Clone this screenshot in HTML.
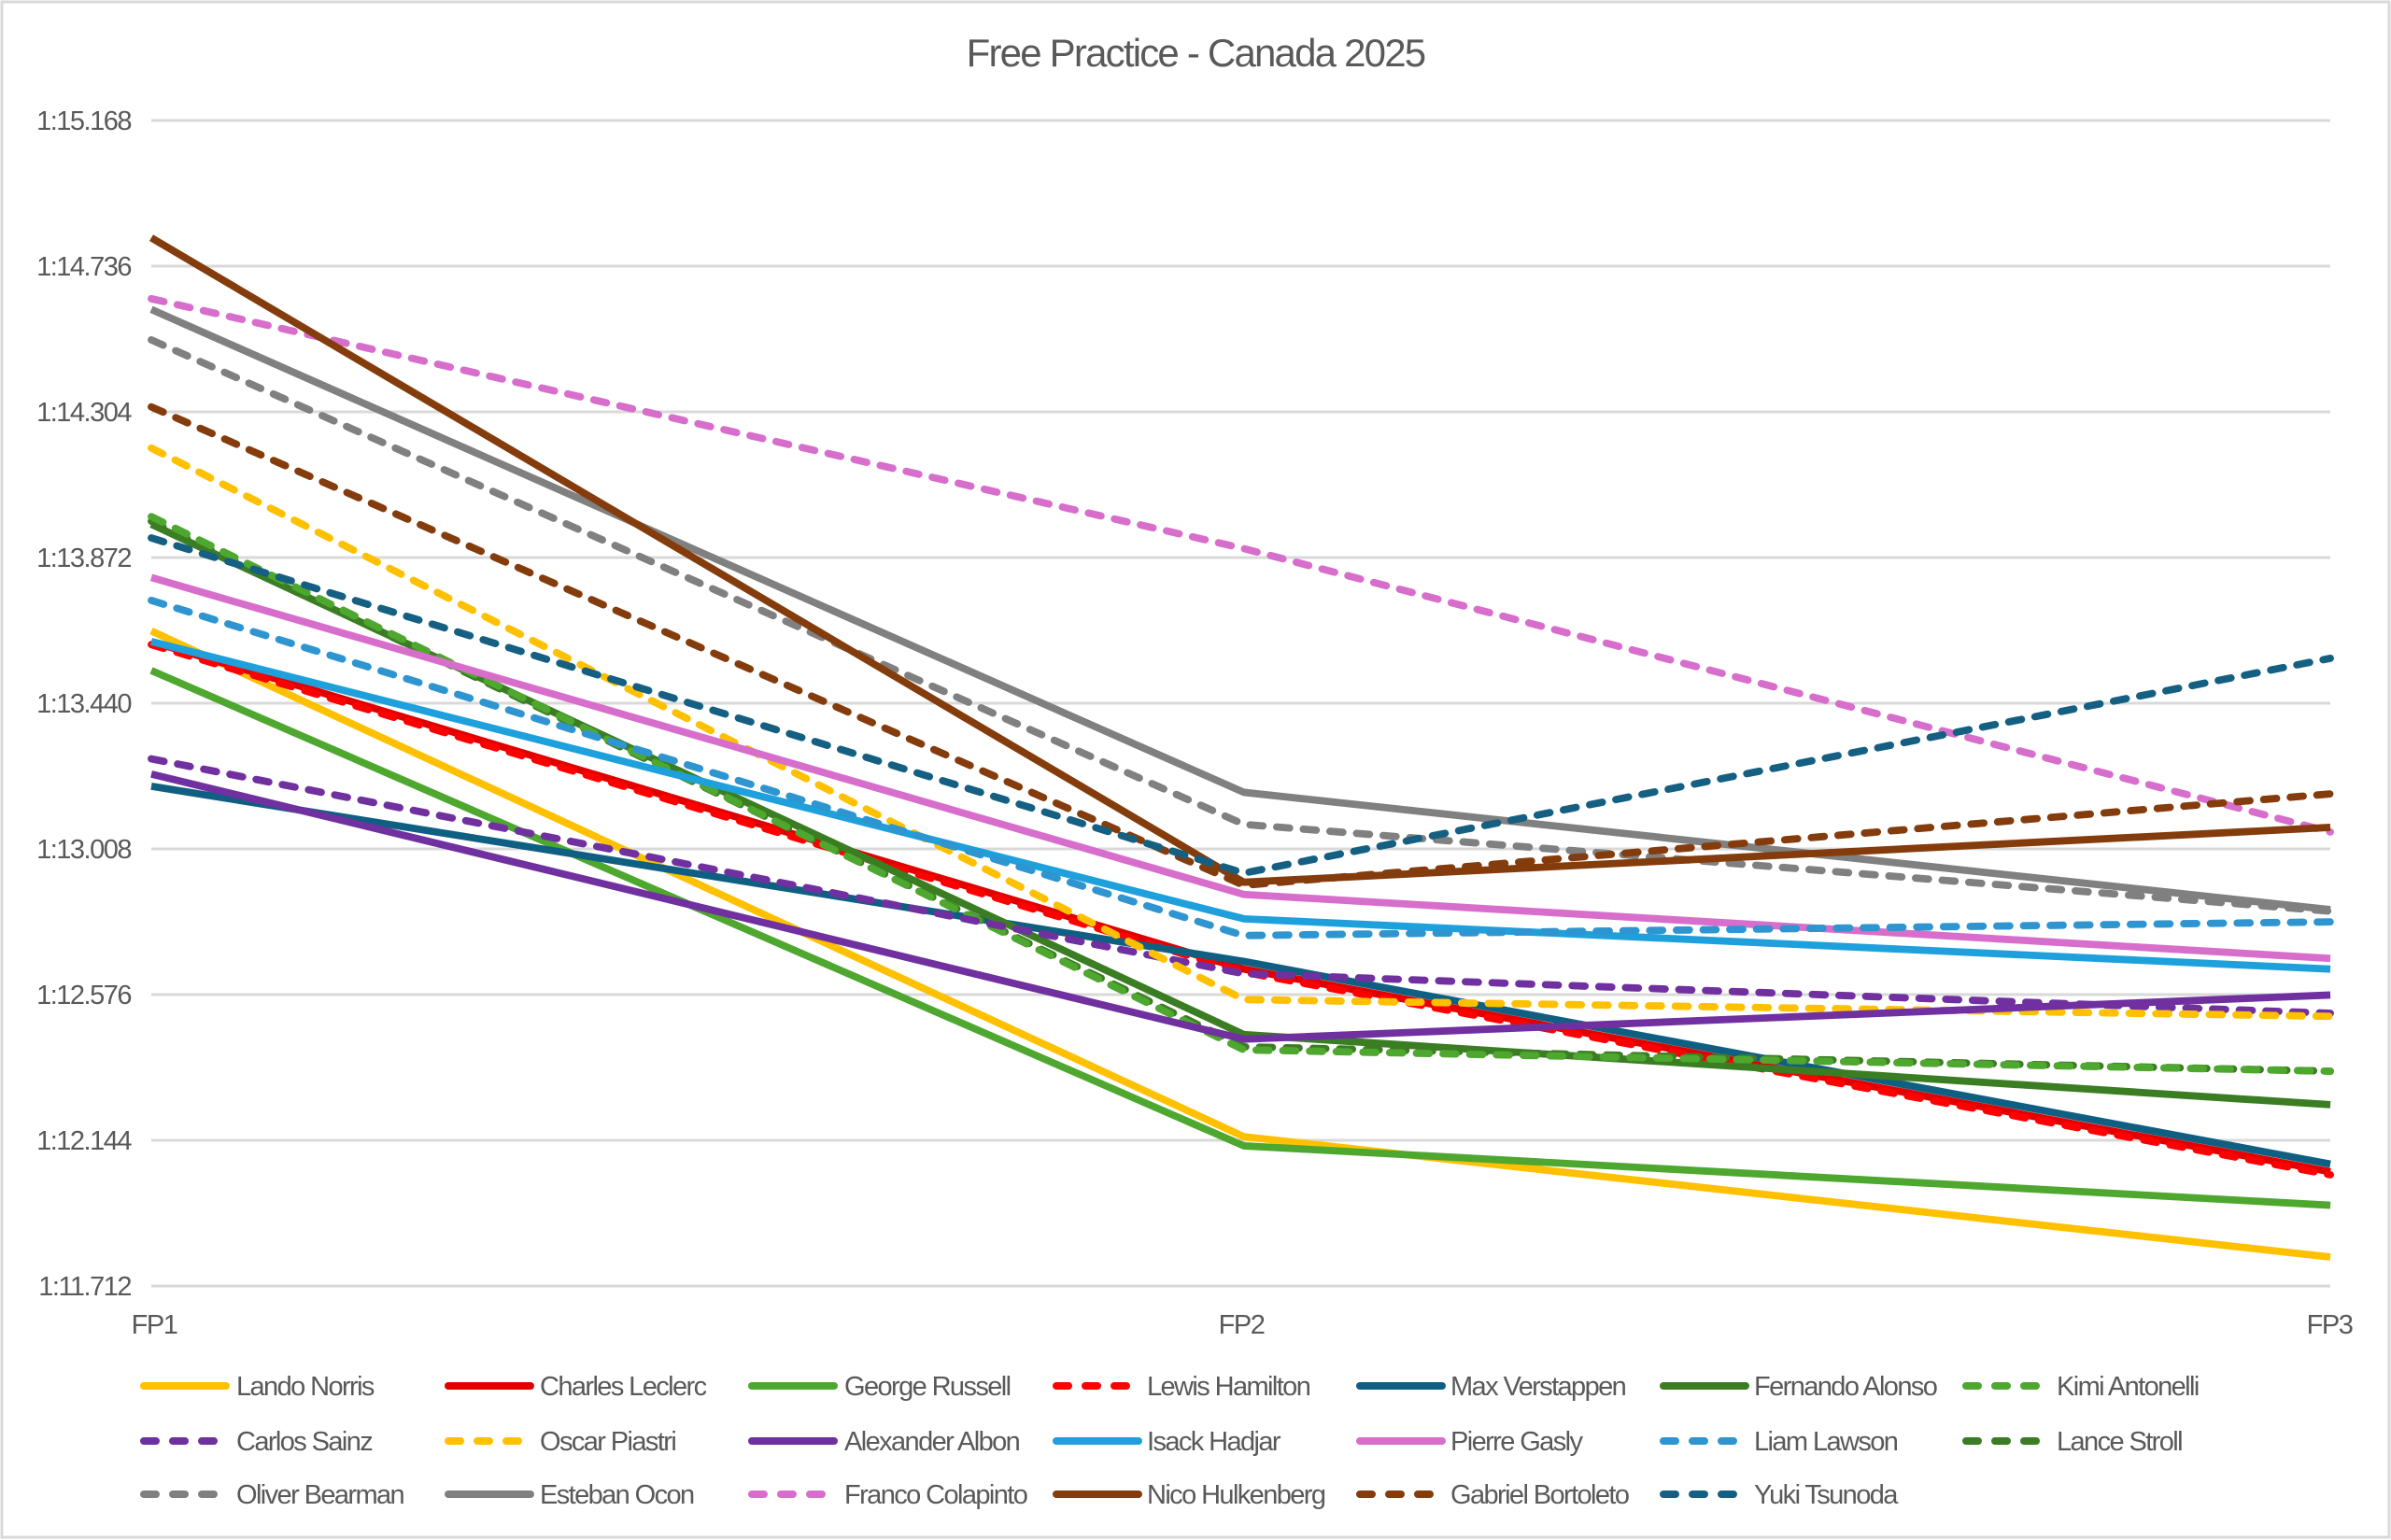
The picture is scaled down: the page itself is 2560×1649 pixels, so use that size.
<!DOCTYPE html>
<html><head><meta charset="utf-8"><style>
html,body{margin:0;padding:0;background:#fff;}
svg{display:block;font-family:"Liberation Sans",sans-serif;}
</style></head><body>
<svg width="2560" height="1649" viewBox="0 0 2560 1649" xmlns="http://www.w3.org/2000/svg">
<rect x="2" y="2" width="2556" height="1644" fill="#fff" stroke="#d9d9d9" stroke-width="3"/>
<text x="1280" y="71" text-anchor="middle" font-size="42" fill="#595959" letter-spacing="-1.8">Free Practice - Canada 2025</text>
<g stroke="#d9d9d9" stroke-width="3">
<line x1="162" x2="2495" y1="129" y2="129"/>
<line x1="162" x2="2495" y1="285" y2="285"/>
<line x1="162" x2="2495" y1="441" y2="441"/>
<line x1="162" x2="2495" y1="597" y2="597"/>
<line x1="162" x2="2495" y1="753" y2="753"/>
<line x1="162" x2="2495" y1="909" y2="909"/>
<line x1="162" x2="2495" y1="1065" y2="1065"/>
<line x1="162" x2="2495" y1="1221" y2="1221"/>
<line x1="162" x2="2495" y1="1377" y2="1377"/>
</g>
<g font-size="29" fill="#595959" text-anchor="end" letter-spacing="-1.5">
<text x="140" y="139">1:15.168</text>
<text x="140" y="295">1:14.736</text>
<text x="140" y="451">1:14.304</text>
<text x="140" y="607">1:13.872</text>
<text x="140" y="763">1:13.440</text>
<text x="140" y="919">1:13.008</text>
<text x="140" y="1075">1:12.576</text>
<text x="140" y="1231">1:12.144</text>
<text x="140" y="1387">1:11.712</text>
</g>
<g font-size="29" fill="#595959" text-anchor="middle" letter-spacing="-1.5">
<text x="165" y="1428">FP1</text>
<text x="1329" y="1428">FP2</text>
<text x="2494" y="1428">FP3</text>
</g>
<g transform="matrix(1.6338 0 0 1.6314 0.25 1.75)" fill="none" stroke-width="4.8" stroke-linecap="round" stroke-linejoin="round">
<polyline stroke="#FFC000" points="99,413 815,745 1527,824" stroke-linecap="butt"/>
<polyline stroke="#E00000" points="99,420 815,635 1527,768" stroke-linecap="butt"/>
<polyline stroke="#4EA72E" points="99,439 815,751 1527,790" stroke-linecap="butt"/>
<polyline stroke="#FF0000" stroke-dasharray="8.5 9" points="99,422 815,637 1527,770"/>
<polyline stroke="#0F5F82" points="99,515 815,630 1527,763" stroke-linecap="butt"/>
<polyline stroke="#3B7D23" points="99,343 815,678 1527,724" stroke-linecap="butt"/>
<polyline stroke="#3B7D23" stroke-dasharray="8.5 9" points="99,341 815,686 1527,702"/>
<polyline stroke="#4EA72E" stroke-dasharray="8.5 9" points="99,338 815,688 1527,702"/>
<polyline stroke="#7030A0" stroke-dasharray="8.5 9" points="99,497 815,638 1527,664"/>
<polyline stroke="#FFC000" stroke-dasharray="8.5 9" points="99,293 815,655 1527,666"/>
<polyline stroke="#7030A0" points="99,507 815,681 1527,652" stroke-linecap="butt"/>
<polyline stroke="#1EA0DC" points="99,420 815,602 1527,635" stroke-linecap="butt"/>
<polyline stroke="#D86ECC" points="99,378 815,586 1527,628" stroke-linecap="butt"/>
<polyline stroke="#2E95D0" stroke-dasharray="8.5 9" points="99,393 815,613 1527,604"/>
<polyline stroke="#808080" stroke-dasharray="8.5 9" points="99,222 815,540 1527,597"/>
<polyline stroke="#808080" points="99,202 815,519 1527,596" stroke-linecap="butt"/>
<polyline stroke="#D86ECC" stroke-dasharray="8.5 9" points="99,195 815,359 1527,545"/>
<polyline stroke="#843C0C" points="99,155 815,578 1527,542" stroke-linecap="butt"/>
<polyline stroke="#843C0C" stroke-dasharray="8.5 9" points="99,266 815,580 1527,520"/>
<polyline stroke="#156082" stroke-dasharray="8.5 9" points="99,352 815,572 1527,431"/>
</g>
<g stroke-width="8" fill="none">
<line x1="154" x2="242" y1="1484" y2="1484" stroke="#FFC000" stroke-linecap="round"/>
<line x1="480" x2="568" y1="1484" y2="1484" stroke="#E00000" stroke-linecap="round"/>
<line x1="805" x2="893" y1="1484" y2="1484" stroke="#4EA72E" stroke-linecap="round"/>
<line x1="1131" x2="1219" y1="1484" y2="1484" stroke="#FF0000" stroke-linecap="round" stroke-dasharray="13 18"/>
<line x1="1456" x2="1544" y1="1484" y2="1484" stroke="#0F5F82" stroke-linecap="round"/>
<line x1="1781" x2="1869" y1="1484" y2="1484" stroke="#3B7D23" stroke-linecap="round"/>
<line x1="2105" x2="2193" y1="1484" y2="1484" stroke="#4EA72E" stroke-linecap="round" stroke-dasharray="13 18"/>
<line x1="154" x2="242" y1="1543" y2="1543" stroke="#7030A0" stroke-linecap="round" stroke-dasharray="13 18"/>
<line x1="480" x2="568" y1="1543" y2="1543" stroke="#FFC000" stroke-linecap="round" stroke-dasharray="13 18"/>
<line x1="805" x2="893" y1="1543" y2="1543" stroke="#7030A0" stroke-linecap="round"/>
<line x1="1131" x2="1219" y1="1543" y2="1543" stroke="#1EA0DC" stroke-linecap="round"/>
<line x1="1456" x2="1544" y1="1543" y2="1543" stroke="#D86ECC" stroke-linecap="round"/>
<line x1="1781" x2="1869" y1="1543" y2="1543" stroke="#2E95D0" stroke-linecap="round" stroke-dasharray="13 18"/>
<line x1="2105" x2="2193" y1="1543" y2="1543" stroke="#3B7D23" stroke-linecap="round" stroke-dasharray="13 18"/>
<line x1="154" x2="242" y1="1600" y2="1600" stroke="#808080" stroke-linecap="round" stroke-dasharray="13 18"/>
<line x1="480" x2="568" y1="1600" y2="1600" stroke="#808080" stroke-linecap="round"/>
<line x1="805" x2="893" y1="1600" y2="1600" stroke="#D86ECC" stroke-linecap="round" stroke-dasharray="13 18"/>
<line x1="1131" x2="1219" y1="1600" y2="1600" stroke="#843C0C" stroke-linecap="round"/>
<line x1="1456" x2="1544" y1="1600" y2="1600" stroke="#843C0C" stroke-linecap="round" stroke-dasharray="13 18"/>
<line x1="1781" x2="1869" y1="1600" y2="1600" stroke="#156082" stroke-linecap="round" stroke-dasharray="13 18"/>
</g>
<g font-size="29" fill="#595959" letter-spacing="-1.6">
<text x="253" y="1494">Lando Norris</text>
<text x="578" y="1494">Charles Leclerc</text>
<text x="904" y="1494">George Russell</text>
<text x="1228" y="1494">Lewis Hamilton</text>
<text x="1553" y="1494">Max Verstappen</text>
<text x="1878" y="1494">Fernando Alonso</text>
<text x="2202" y="1494">Kimi Antonelli</text>
<text x="253" y="1553">Carlos Sainz</text>
<text x="578" y="1553">Oscar Piastri</text>
<text x="904" y="1553">Alexander Albon</text>
<text x="1228" y="1553">Isack Hadjar</text>
<text x="1553" y="1553">Pierre Gasly</text>
<text x="1878" y="1553">Liam Lawson</text>
<text x="2202" y="1553">Lance Stroll</text>
<text x="253" y="1610">Oliver Bearman</text>
<text x="578" y="1610">Esteban Ocon</text>
<text x="904" y="1610">Franco Colapinto</text>
<text x="1228" y="1610">Nico Hulkenberg</text>
<text x="1553" y="1610">Gabriel Bortoleto</text>
<text x="1878" y="1610">Yuki Tsunoda</text>
</g>
</svg>
</body></html>
